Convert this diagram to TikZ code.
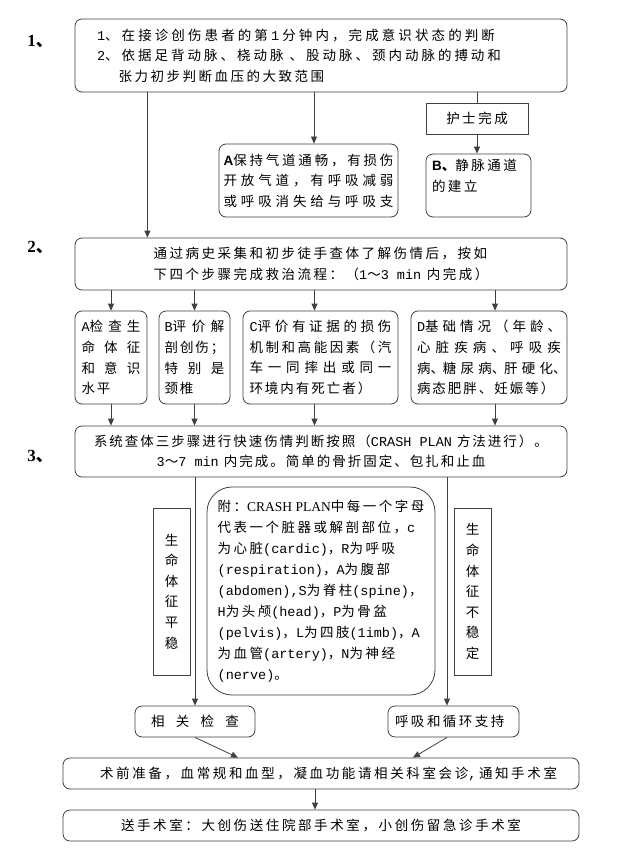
\documentclass[tikz,border=0pt]{standalone}
\usepackage{fontspec}
\setmainfont[LetterSpace=18.5]{Noto Sans CJK SC}
\newfontfamily\cjkn[LetterSpace=14.8]{Noto Sans CJK SC}
\newfontfamily\monofam{Liberation Mono}
\newfontfamily\serfam{Liberation Serif}
\newfontfamily\sansfam{Liberation Sans}
\usetikzlibrary{arrows.meta}
\newcommand{\latn}[1]{{\monofam#1}}
\newcommand{\halfw}[1]{\makebox[8pt][l]{#1}}
\newcommand{\fitline}[2]{\makebox[#1][l]{#2}}
\makeatletter
\def\jline#1{\jline@a#1\relax}
\def\jline@a#1{#1\jline@b}
\def\jline@b#1{\ifx\relax#1\else\hfill#1\expandafter\jline@b\fi}
\makeatother

\begin{document}
\begin{tikzpicture}[x=1pt,y=-1pt,
  box/.style={draw=black!75,line width=0.8pt,rounded corners=7pt,inner sep=0pt,align=left,font=\fontsize{13.5}{20.5}\selectfont},
  sq/.style={box,rounded corners=0pt},
  row/.style={box,font=\cjkn\fontsize{13.5}{20.8}\selectfont,minimum height=93pt},
  num/.style={font=\fontsize{17}{17}\selectfont\bfseries},
  arr/.style={-{Triangle[length=7pt,width=6pt]},line width=0.8pt,draw=black!75},
  ln/.style={line width=0.8pt,draw=black!75}
]
\useasboundingbox (0,0) rectangle (630,850);
\fill[white] (0,0) rectangle (630,850);
% step 1
\node[num] (n1) at (40,42) {{\serfam 1}、};
\node[box,minimum width=492pt,minimum height=73pt,text width=448pt] (s1) at (321,55.5) {\fitline{398pt}{\latn{1}\jline{、在接诊创伤患者的第}\hfill\latn{1}\hfill\jline{分钟内，完成意识状态的判断}}\\\fitline{404pt}{\latn{2}\jline{、依据足背动脉、桡动脉}\hfill\hfill\jline{、股动脉、颈内动脉的搏动和}}\\\phantom{\latn{2}、}张力初步判断血压的大致范围};
\node[box,minimum width=179pt,minimum height=73pt,text width=170pt] (air) at (308.5,180.5) {{\sansfam\bfseries A}\jline{保持气道通畅，有损伤}\\\jline{开放气道，有呼吸减弱}\\\jline{或呼吸消失给与呼吸支}};
\node[sq,minimum width=102pt,minimum height=31pt,align=center] (nurse) at (477,118.5) {护士完成};
\node[box,minimum width=105pt,minimum height=63pt,text width=93pt] (vein) at (478.5,185.5) {{\sansfam\bfseries B}{\bfseries 、}静脉通道\\的建立\\~};
% step 2
\node[num] (n2) at (40,248) {{\serfam 2}、};
\node[box,minimum width=492pt,minimum height=52pt] (s2) at (321,264) {通过病史采集和初步徒手查体了解伤情后，按如\\下四个步骤完成救治流程：（\latn{1}～\latn{3 min} 内完成）};
\node[row,minimum width=72pt,text width=59pt] (ra) at (111,357.5) {\latn{A}\jline{检查生}\\\jline{命体征}\\\jline{和意识}\\水平};
\node[row,minimum width=71pt,text width=60pt] (rb) at (194.5,357.5) {\latn{B}\jline{评价解}\\\jline{剖创伤；}\\\jline{特别是}\\颈椎};
\node[row,minimum width=155pt,text width=142pt] (rc) at (320.5,357.5) {\latn{C}\jline{评价有证据的损伤}\\\jline{机制和高能因素（汽}\\\jline{车一同摔出或同一}\\环境内有死亡者）};
\node[row,minimum width=156pt,text width=144pt] (rd) at (489,357.5) {\latn{D}\jline{基础情况（年龄、}\\\jline{心脏疾病、呼吸疾}\\病\halfw{、}\hfill 糖\hfill 尿\hfill 病\halfw{、}\hfill 肝\hfill 硬\hfill 化\halfw{、}\\病态肥胖、妊娠等）};
% step 3
\node[num] (n3) at (40,457) {{\serfam 3}、};
\node[box,minimum width=492pt,minimum height=51pt,align=center,font=\cjkn\fontsize{13.5}{20}\selectfont] (s3) at (321,451.5) {系统查体三步骤进行快速伤情判断按照（\latn{CRASH PLAN} 方法进行）。\\\latn{3}～\latn{7 min} 内完成。简单的骨折固定、包扎和止血};
\node[sq,minimum width=37pt,minimum height=167pt,align=center,font=\fontsize{13.5}{20.6}\selectfont] (ok) at (171.5,591.5) {生\\命\\体\\征\\平\\稳};
\node[box,rounded corners=25pt,minimum width=228pt,minimum height=208pt,font=\fontsize{13.5}{21}\selectfont] (note) at (321,591) {附：{\serfam CRASH~PLAN}中每一个字母\\代表一个脏器或解剖部位，\latn{c}\\为心脏\latn{(cardic)}，\latn{R}为呼吸\\\latn{(respiration)}，\latn{A}为腹部\\\latn{(abdomen),S}为脊柱\latn{(spine)}，\\\latn{H}为头颅\latn{(head)}，\latn{P}为骨盆\\\latn{(pelvis)}，\latn{L}为四肢\latn{(1imb)}，\latn{A}\\为血管\latn{(artery)}，\latn{N}为神经\\\latn{(nerve)}。};
\node[sq,minimum width=37pt,minimum height=167pt,align=center,font=\fontsize{13.5}{20.6}\selectfont] (bad) at (472.5,591.5) {生\\命\\体\\征\\不\\稳\\定};
\node[box,minimum width=120pt,minimum height=31pt,text width=88pt] (chk) at (195,721.5) {\jline{相关检查}};
\node[box,minimum width=131pt,minimum height=31pt,text width=117pt] (care) at (453.5,721.5) {呼吸和循环支持};
\node[box,minimum width=516pt,minimum height=31pt,text width=472pt] (s4) at (321,773.5) {\hspace*{15pt}\jline{术前准备，血常规和血型，凝血功能请相关科室会诊}\latn{,}\hfill\jline{通知手术室}};
\node[box,minimum width=516pt,minimum height=31pt,text width=400pt] (s5) at (321,825.5) {\jline{送手术室：大创伤送住院部手术室，小创伤留急诊手术室}};
% connectors
\draw[arr] (s1.south -| ra.east) -- (s2.north -| ra.east);
\draw[arr] ([xshift=5.5pt]air.north |- s1.south) -- ([xshift=5.5pt]air.north);
\draw[ln] (nurse.north |- s1.south) -- (nurse.north);\draw[arr] (nurse.south) -- (nurse.south |- vein.north);
\draw[arr] (ra.north |- s2.south) -- (ra.north);\draw[arr] (rb.north |- s2.south) -- (rb.north);
\draw[arr] ([xshift=-6pt]rc.north |- s2.south) -- ([xshift=-6pt]rc.north);\draw[arr] ([xshift=6pt]rd.north |- s2.south) -- ([xshift=6pt]rd.north);
\draw[arr] (ra.south) -- (ra.south |- s3.north);\draw[arr] (rb.south) -- (rb.south |- s3.north);
\draw[arr] ([xshift=-6pt]rc.south) -- ([xshift=-6pt]rc.south |- s3.north);\draw[arr] ([xshift=6pt]rd.south) -- ([xshift=6pt]rd.south |- s3.north);
\draw[arr] (chk.north |- s3.south) -- (chk.north);\draw[arr] ([xshift=-6.5pt]care.north |- s3.south) -- ([xshift=-6.5pt]care.north);
\draw[arr] (chk.south) -- ([xshift=-83pt]s4.north);\draw[arr] ([xshift=-6.5pt]care.south) -- ([xshift=92pt]s4.north);
\draw[arr] ([xshift=-6pt]s4.south) -- ([xshift=-6pt]s5.north);
\end{tikzpicture}
\end{document}
